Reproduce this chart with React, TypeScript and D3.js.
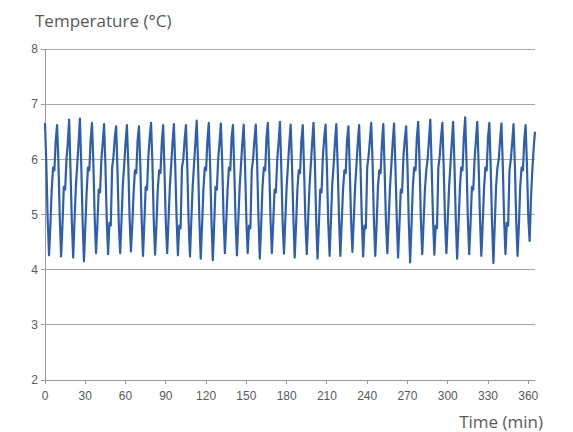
import React from "react";
import * as d3 from "d3";

// Temperature sampled every minute, t = 0 .. 365 min
const timeStepMin = 1;
const temperature: number[] = [
  6.66, 5.9, 4.9, 4.26, 4.8, 5.45, 5.85, 5.8, 6.35, 6.62,
  5.95, 4.95, 4.24, 4.8, 5.5, 5.45, 6.0, 6.3, 6.72,
  5.8, 4.85, 4.22, 4.9, 5.5, 5.9, 6.3, 6.74,
  5.9, 4.9, 4.15, 4.75, 5.4, 5.85, 5.8, 6.35, 6.66,
  5.95, 4.95, 4.3, 4.8, 5.45, 5.4, 6.0, 6.3, 6.64,
  5.9, 4.9, 4.28, 4.85, 4.8, 5.85, 6.05, 6.4, 6.6,
  5.8, 4.8, 4.3, 4.9, 5.55, 5.9, 6.3, 6.62,
  5.95, 4.95, 4.33, 4.8, 5.4, 5.8, 5.75, 6.35, 6.6,
  5.9, 4.9, 4.25, 4.85, 5.5, 5.45, 6.05, 6.4, 6.66,
  5.95, 4.9, 4.27, 4.8, 5.45, 5.8, 5.75, 6.3, 6.62,
  5.8, 4.85, 4.3, 4.9, 5.5, 5.9, 6.3, 6.64,
  5.9, 4.95, 4.26, 4.8, 4.75, 5.85, 6.0, 6.35, 6.62,
  5.85, 4.85, 4.24, 4.9, 5.5, 5.9, 6.3, 6.7,
  5.95, 4.9, 4.2, 4.8, 5.45, 5.85, 5.8, 6.35, 6.66,
  5.9, 4.9, 4.17, 4.8, 5.5, 5.45, 6.0, 6.3, 6.65,
  5.95, 4.95, 4.3, 4.85, 5.45, 5.85, 5.8, 6.4, 6.62,
  5.8, 4.85, 4.26, 4.9, 5.5, 5.9, 6.3, 6.63,
  5.9, 4.9, 4.3, 4.8, 4.75, 5.8, 6.0, 6.35, 6.63,
  5.95, 4.95, 4.2, 4.8, 5.5, 5.85, 5.8, 6.4, 6.66,
  5.9, 4.9, 4.3, 4.85, 5.45, 5.4, 6.0, 6.3, 6.68,
  5.85, 4.85, 4.29, 4.9, 5.5, 5.9, 6.3, 6.63,
  5.9, 4.95, 4.22, 4.8, 5.45, 5.8, 5.75, 6.35, 6.62,
  5.8, 4.85, 4.28, 4.9, 5.5, 5.9, 6.3, 6.66,
  5.95, 4.9, 4.2, 4.8, 5.45, 5.4, 6.05, 6.4, 6.63,
  5.85, 4.85, 4.25, 4.9, 5.55, 5.9, 6.3, 6.64,
  5.9, 4.95, 4.25, 4.85, 5.45, 5.8, 5.75, 6.35, 6.6,
  5.85, 4.9, 4.32, 4.9, 5.5, 5.9, 6.3, 6.62,
  5.9, 4.9, 4.24, 4.8, 4.75, 5.85, 6.05, 6.35, 6.66,
  5.95, 4.9, 4.25, 4.8, 5.5, 5.8, 5.75, 6.3, 6.64,
  5.8, 4.85, 4.3, 4.9, 5.5, 5.9, 6.3, 6.65,
  5.9, 4.95, 4.22, 4.8, 5.45, 5.4, 6.05, 6.35, 6.6,
  5.9, 4.85, 4.13, 4.8, 5.5, 5.85, 5.8, 6.4, 6.68,
  5.95, 4.9, 4.28, 4.85, 5.45, 5.8, 6.0, 6.35, 6.72,
  5.9, 4.95, 4.27, 4.8, 4.75, 5.85, 6.05, 6.4, 6.66,
  5.85, 4.85, 4.3, 4.9, 5.5, 5.9, 6.3, 6.68,
  5.9, 4.9, 4.2, 4.8, 5.45, 5.85, 5.8, 6.4, 6.76,
  5.95, 4.9, 4.28, 4.85, 5.5, 5.45, 6.0, 6.35, 6.68,
  5.9, 4.95, 4.25, 4.8, 5.45, 5.85, 5.8, 6.4, 6.66,
  5.85, 4.85, 4.12, 4.8, 5.5, 5.85, 6.0, 6.35, 6.65,
  5.9, 4.9, 4.28, 4.85, 4.8, 5.8, 6.0, 6.3, 6.64,
  5.9, 4.9, 4.25, 4.8, 5.5, 5.85, 5.8, 6.35, 6.62,
  5.9, 4.95, 4.52, 5.3, 5.8, 6.2, 6.5,
];

const xTicks = [0, 30, 60, 90, 120, 150, 180, 210, 240, 270, 300, 330, 360];
const yTicks = [2, 3, 4, 5, 6, 7, 8];
const xDomain = [0, 365];
const yDomain = [2, 8];
const yTitle = "Temperature (°C)";
const xTitle = "Time (min)";

const W = 573;
const H = 432;
const plot = { left: 45, right: 535, top: 49, bottom: 380 };

export default function App() {
  const x = d3.scaleLinear().domain(xDomain).range([plot.left, plot.right]);
  const y = d3.scaleLinear().domain(yDomain).range([plot.bottom, plot.top]);
  const line = d3
    .line<number>()
    .x((_, i) => x(i * timeStepMin))
    .y((d) => y(d));

  const tickFont = "'Liberation Sans', Arial, sans-serif";
  const titleFont = "'Open Sans', 'Noto Sans', sans-serif";
  const textColor = "#595959";

  return (
    <svg
      width={W}
      height={H}
      style={{ position: "absolute", left: 0, top: 0, background: "#fff" }}
    >
      {yTicks.map((t) => (
        <line
          key={"g" + t}
          x1={plot.left}
          x2={plot.right}
          y1={y(t)}
          y2={y(t)}
          stroke={t === 2 ? "#9a9a9a" : "#a8a8a8"}
          strokeWidth={1}
          shapeRendering="crispEdges"
        />
      ))}
      <line
        x1={plot.left}
        x2={plot.left}
        y1={plot.top}
        y2={plot.bottom}
        stroke="#9a9a9a"
        shapeRendering="crispEdges"
      />
      {yTicks.map((t) => (
        <g key={"y" + t}>
          <line
            x1={plot.left - 4}
            x2={plot.left}
            y1={y(t)}
            y2={y(t)}
            stroke="#9a9a9a"
            shapeRendering="crispEdges"
          />
          <text
            x={plot.left - 7}
            y={y(t)}
            dy="0.35em"
            textAnchor="end"
            fontFamily={tickFont}
            fontSize={12}
            fill={textColor}
          >
            {t}
          </text>
        </g>
      ))}
      {xTicks.map((t) => (
        <g key={"x" + t}>
          <line
            x1={x(t)}
            x2={x(t)}
            y1={plot.bottom}
            y2={plot.bottom + 4}
            stroke="#9a9a9a"
            shapeRendering="crispEdges"
          />
          <text
            x={x(t)}
            y={plot.bottom + 20}
            textAnchor="middle"
            fontFamily={tickFont}
            fontSize={12}
            fill={textColor}
          >
            {t}
          </text>
        </g>
      ))}
      <path
        d={line(temperature) || ""}
        fill="none"
        stroke="#2e5fae"
        strokeWidth={2.2}
        strokeLinejoin="round"
      />
      <text x={35} y={27} fontFamily={titleFont} fontSize={17} fill={textColor}>
        {yTitle}
      </text>
      <text
        x={543}
        y={428}
        textAnchor="end"
        fontFamily={titleFont}
        fontSize={17}
        fill={textColor}
      >
        {xTitle}
      </text>
    </svg>
  );
}
